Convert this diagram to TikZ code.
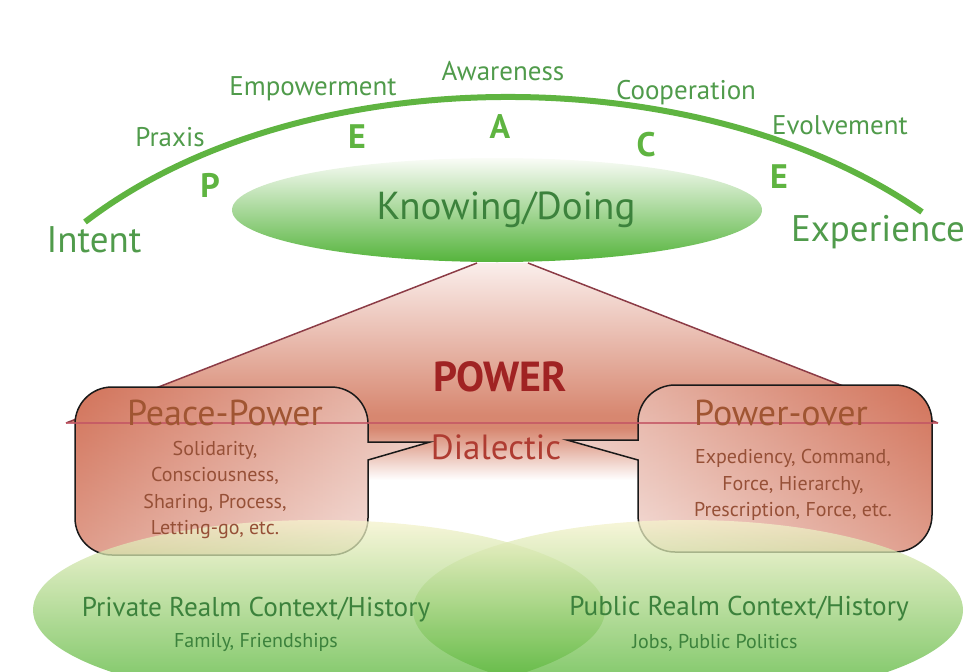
\documentclass[tikz,border=0pt]{standalone}
\usepackage{fontspec}
\setmainfont{PT Sans}
\definecolor{arcgreen}{RGB}{95,180,65}
\definecolor{labelgreen}{RGB}{80,155,75}
\definecolor{textgreen}{RGB}{60,130,60}
\definecolor{realmgreen}{RGB}{70,175,40}
\definecolor{realmcream}{RGB}{246,243,205}
\definecolor{realmmid}{RGB}{208,230,150}
\definecolor{knowtop}{RGB}{250,252,247}
\definecolor{knowmid}{RGB}{210,235,200}
\definecolor{knowbot}{RGB}{85,180,60}
\definecolor{powersalmon}{RGB}{215,135,112}
\definecolor{powerpink}{RGB}{250,238,235}
\definecolor{boxsalmon}{RGB}{210,115,90}
\definecolor{boxpink}{RGB}{248,236,233}
\definecolor{boxtext}{RGB}{160,85,50}
\definecolor{itemtext}{RGB}{150,80,55}
\definecolor{powerred}{RGB}{160,35,35}
\definecolor{dialred}{RGB}{175,60,50}
\definecolor{edgered}{RGB}{140,60,70}
\definecolor{linered}{RGB}{195,85,100}
\pgfdeclareverticalshading{powershade}{100bp}{color(0bp)=(powerpink); color(25bp)=(white); color(33bp)=(powersalmon!70!white); color(37bp)=(powersalmon); color(40bp)=(powersalmon); color(75bp)=(powerpink); color(100bp)=(powerpink)}
\tikzset{
	arclabel/.style={text=labelgreen, font=\fontsize{13.5}{15}\selectfont},
	peaceletter/.style={text=arcgreen, font=\fontsize{17}{19}\selectfont\bfseries},
	endlabel/.style={text=labelgreen, font=\fontsize{18.5}{21}\selectfont},
	boxtitle/.style={text=boxtext, font=\fontsize{18}{20}\selectfont},
	boxitems/.style={text=itemtext, align=center, font=\fontsize{10}{13.3}\selectfont},
	realmtitle/.style={text=textgreen, font=\fontsize{13.6}{15}\selectfont},
	realmsub/.style={text=textgreen, font=\fontsize{10}{11}\selectfont},
	boxline/.style={draw=black!90, line width=0.75pt},
	realm/.style={top color=realmcream, middle color=realmmid, bottom color=realmgreen, fill opacity=0.75},
}
\begin{document}
\begin{tikzpicture}[x=0.5pt,y=0.5pt]
	\useasboundingbox (0,0) rectangle (969,671);
	% power trapezoid
	\coordinate (T1) at (477,408);
	\coordinate (T2) at (528,408);
	\coordinate (L) at (66,248);
	\coordinate (R) at (938,248);
	\shade[shading=powershade] (T1) -- (T2) -- (R) -- (638,248) -- (638,191) -- (368,191) -- (368,248) -- (L) -- cycle;
	\draw[edgered, line width=0.75pt] (L) -- (T1) (T2) -- (R);
	% the two boxes
	\draw[boxline, path picture={
		\shade[left color=boxsalmon, right color=boxpink] (path picture bounding box.south west) rectangle (path picture bounding box.north east);
		\shade[top color=boxsalmon, bottom color=boxpink, fill opacity=0.35] (path picture bounding box.south west) rectangle (path picture bounding box.north east);}]
		(112,284) -- (331,284) arc (90:0:18.5pt) -- (368,229) -- (430,229) -- (368,211) -- (368,153)
		arc (0:-90:18.5pt) -- (112,116) arc (270:180:18.5pt) -- (75,247) arc (180:90:18.5pt) -- cycle;
	\draw[boxline, path picture={
		\shade[left color=boxpink, right color=boxsalmon] (path picture bounding box.south west) rectangle (path picture bounding box.north east);
		\shade[top color=boxsalmon, bottom color=boxpink, fill opacity=0.35] (path picture bounding box.south west) rectangle (path picture bounding box.north east);}]
		(675,286) -- (895,286) arc (90:0:18.5pt) -- (932,156) arc (0:-90:18.5pt) -- (675,119)
		arc (270:180:18.5pt) -- (638,211) -- (567,231) -- (638,231) -- (638,249) arc (180:90:18.5pt) -- cycle;
	% realms
	\shade[realm] (319,61) ellipse [x radius=143pt, y radius=45pt];
	\shade[realm] (688,61) ellipse [x radius=137.5pt, y radius=45pt];
	\draw[linered, line width=0.6pt, opacity=0.8] (L) -- (R);
	% knowing/doing
	\shade[top color=knowtop, middle color=knowmid, bottom color=knowbot] (497,461) ellipse [x radius=132.5pt, y radius=26pt];
	\coordinate (intentend) at (85,449);
	\coordinate (expend) at (922,459);
	\draw[arcgreen, line width=3pt] (intentend) .. controls (300,614) and (700,614) .. (expend);
	\node[text=textgreen, font=\fontsize{19.5}{22}\selectfont] (knowing) at (506,461) {Knowing/Doing};
	\node[endlabel] (intent) at (94,431) {Intent};
	\node[endlabel] (experience) at (878,439) {Experience};
	\node[arclabel] (praxis) at (170,534) {Praxis};
	\node[arclabel] (empower) at (313,582) {Empowerment};
	\node[arclabel] (aware) at (503,600) {Awareness};
	\node[arclabel] (coop) at (686,578) {Cooperation};
	\node[arclabel] (evolve) at (840,546) {Evolvement};
	\node[peaceletter] (p1) at (210,486) {P};
	\node[peaceletter] (e1) at (357,534) {E};
	\node[peaceletter] (a1) at (500,544) {A};
	\node[peaceletter] (c1) at (646,526) {C};
	\node[peaceletter] (e2) at (779,494) {E};
	\node[text=powerred, font=\fontsize{21}{24}\selectfont\bfseries] (power) at (500,294) {POWER};
	\node[text=dialred, font=\fontsize{17.5}{20}\selectfont] (dialectic) at (496,224) {Dialectic};
	\node[boxtitle] (peacepower) at (225,258) {Peace-Power};
	\node[boxitems] (peaceitems) at (215,181) {Solidarity,\\Consciousness,\\Sharing, Process,\\Letting-go, etc.};
	\node[boxtitle] (powerover) at (781,258) {Power-over};
	\node[boxitems] (overitems) at (793,186) {Expediency, Command,\\Force, Hierarchy,\\Prescription, Force, etc.};
	\node[realmtitle] (private) at (256,61) {Private Realm Context/History};
	\node[realmsub] (privsub) at (256,29) {Family, Friendships};
	\node[realmtitle] (public) at (739,62) {Public Realm Context/History};
	\node[realmsub] (pubsub) at (715,28) {Jobs, Public Politics};
\end{tikzpicture}
\end{document}
